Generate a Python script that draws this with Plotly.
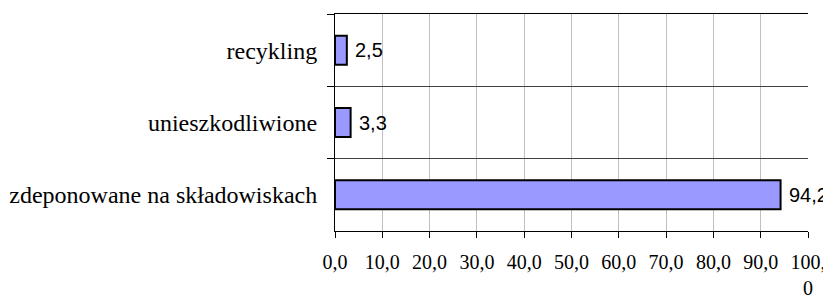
import plotly.graph_objects as go

categories = ["recykling", "unieszkodliwione", "zdeponowane na składowiskach"]
values = [2.5, 3.3, 94.2]
x_tick_vals = [0, 10, 20, 30, 40, 50, 60, 70, 80, 90, 100]
x_tick_text = ["0,0", "10,0", "20,0", "30,0", "40,0", "50,0", "60,0", "70,0", "80,0", "90,0", "100,<br>0"]

value_labels = [f"{v:.1f}".replace(".", ",") for v in values]

fig = go.Figure()
fig.add_trace(go.Bar(
    x=values,
    y=categories,
    orientation="h",
    width=0.4,
    marker=dict(color="#9999FF", line=dict(color="#000000", width=2)),
    hoverinfo="skip",
))

for c, v, t in zip(categories, values, value_labels):
    fig.add_annotation(
        x=v, y=c, text=t, showarrow=False, xanchor="left", xshift=6,
        font=dict(family="Liberation Sans, Arial, sans-serif", size=20, color="#000000"),
    )

# page body has an 8px default margin; the figure is sized to fit the window
fig.update_layout(
    width=823, height=289,
    margin=dict(l=327, r=23, t=6, b=66, autoexpand=False),
    paper_bgcolor="white", plot_bgcolor="white",
    showlegend=False,
    xaxis=dict(
        range=[0, 100],
        automargin=False,
        tickvals=x_tick_vals, ticktext=x_tick_text,
        ticks="outside", ticklen=6, tickcolor="#000000", tickwidth=1,
        showline=True, linecolor="#000000", linewidth=1, mirror=True,
        showgrid=True, gridcolor="#c0c0c0", gridwidth=1,
        zeroline=False,
        tickfont=dict(family="Liberation Serif, Times New Roman, serif", size=20, color="#000000"),
        ticklabelstandoff=7,
    ),
    yaxis=dict(
        type="category",
        automargin=False,
        autorange="reversed",
        tickson="boundaries",
        ticks="outside", ticklen=7, tickcolor="#000000", tickwidth=1,
        showline=True, linecolor="#000000", linewidth=1,
        showgrid=True, gridcolor="#404040", gridwidth=1,
        zeroline=False,
        tickfont=dict(family="Liberation Serif, Times New Roman, serif", size=24, color="#000000"),
        ticklabelstandoff=12,
    ),
)

fig.write_html("out.html")
